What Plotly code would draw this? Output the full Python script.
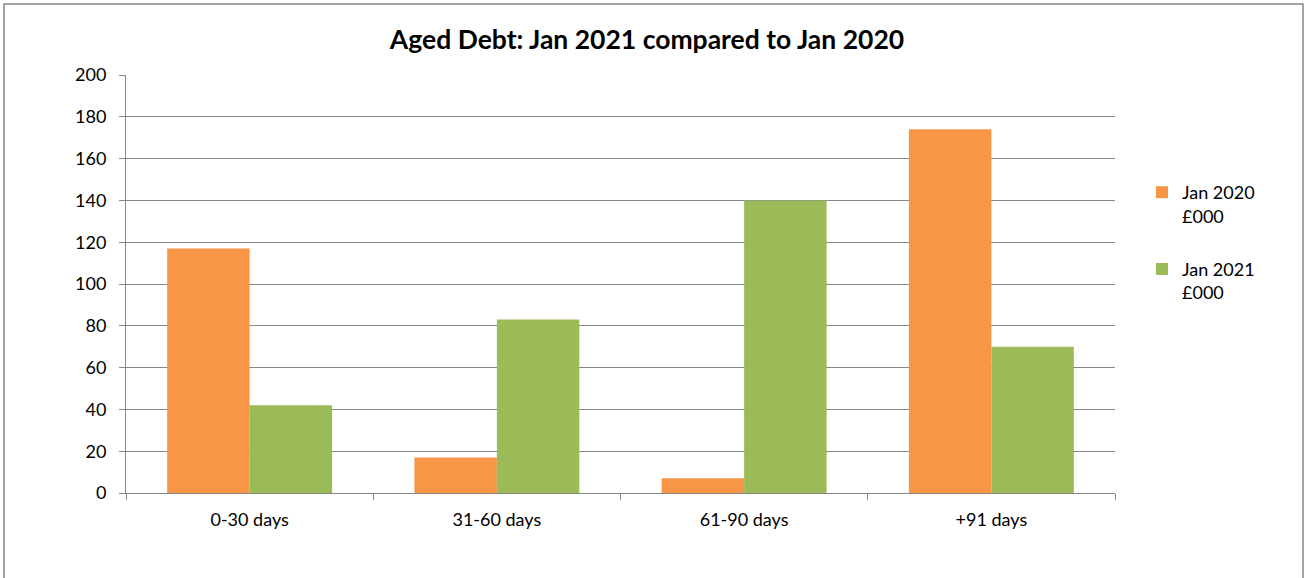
import plotly.graph_objects as go

categories = ["0-30 days", "31-60 days", "61-90 days", "+91 days"]
jan2020 = [117, 17, 7, 174]
jan2021 = [42, 83, 140, 70]
series_names = ["Jan 2020<br>£000", "Jan 2021<br>£000"]
colors = ["#F79646", "#9BBB59"]
y_ticks = [0, 20, 40, 60, 80, 100, 120, 140, 160, 180, 200]

W, H = 1305, 578
L, R, T, B = 126, 190, 75, 85
pw, ph = W - L - R, H - T - B

fig = go.Figure()
for i, (name, vals, c) in enumerate(zip(series_names, [jan2020, jan2021], colors)):
    fig.add_trace(go.Bar(x=categories, y=vals, name=name, legendgroup=f"g{i}",
                         marker=dict(color=c, line=dict(width=0))))

grey = "#868686"
font = "Lato, 'Open Sans', sans-serif"
fig.update_layout(
    width=W, height=H,
    margin=dict(l=L, r=R, t=T, b=B),
    paper_bgcolor="white", plot_bgcolor="white",
    barmode="group", bargap=0.333, bargroupgap=0,
    font=dict(family=font, size=18, color="#000000"),
    title=dict(text="<b>Aged Debt: Jan 2021 compared to Jan 2020</b>",
               x=647 / W, xanchor="center", y=1 - 40 / H, yanchor="middle",
               font=dict(size=26.5, family=font, color="#000000")),
    showlegend=True,
    legend=dict(x=(1142 - L) / pw, xanchor="left", y=(H - B - 174) / ph, yanchor="top",
                bgcolor="rgba(0,0,0,0)", font=dict(size=18, family=font),
                tracegroupgap=27, itemwidth=30, valign="top"),
    xaxis=dict(showgrid=False, showline=True, linecolor=grey, linewidth=1,
               ticks="outside", ticklen=6, tickcolor=grey, tickson="boundaries",
               tickfont=dict(size=18), ticklabelstandoff=10, fixedrange=True),
    yaxis=dict(range=[0, 200], tickvals=y_ticks, showgrid=True, gridcolor=grey,
               gridwidth=1, showline=True, linecolor=grey, linewidth=1,
               ticks="outside", ticklen=6, tickcolor=grey, zeroline=False,
               tickfont=dict(size=18), ticklabelstandoff=9, fixedrange=True),
    shapes=[dict(type="rect", xref="paper", yref="paper",
                 x0=(4 - L) / pw, x1=(1303 - L) / pw,
                 y0=(H - B - 590) / ph, y1=(H - B - 4) / ph,
                 line=dict(color=grey, width=1.5), layer="below")],
)

fig.write_html("out.html", config={"displayModeBar": False},
               post_script="document.body.style.margin='0';")
